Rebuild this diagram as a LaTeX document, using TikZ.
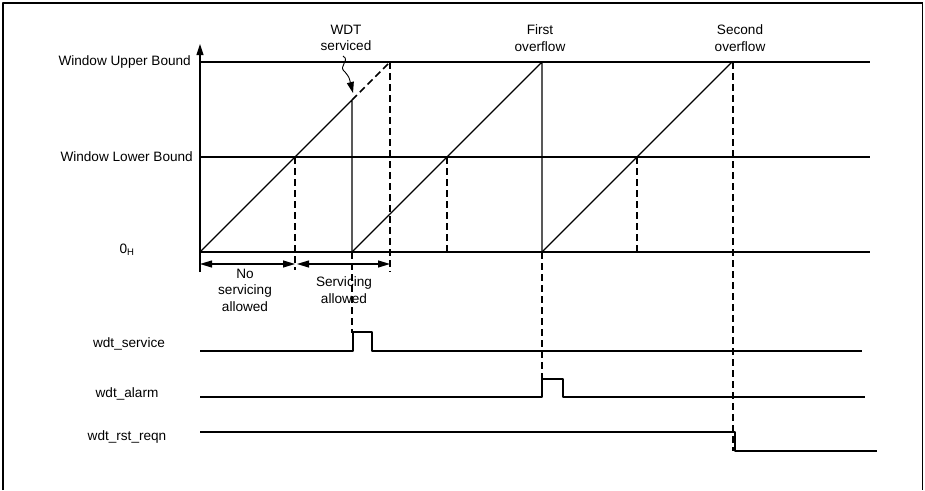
\documentclass[tikz,border=0pt]{standalone}
\usepackage{fontspec}
\setmainfont{Liberation Sans}
\usetikzlibrary{arrows.meta}

\begin{document}
\begin{tikzpicture}[
    x=1pt, y=-1pt,
    line join=round,
    every node/.style={font=\fontsize{13.6}{16.5}\selectfont, inner sep=0pt},
    thin line/.style={line width=1.1pt},
    guide/.style={line width=1.5pt, dash pattern=on 7pt off 4pt},
    tip/.style={-{Triangle[length=11pt, width=7pt]}},
    dim/.style={{Triangle[length=12pt, width=7pt]}-{Triangle[length=12pt, width=7pt]}, line width=1.1pt},
]
\useasboundingbox (0,0) rectangle (925,490);

% 参数（像素）
\def\X{200}     % 纵轴位置
\def\Yup{62}    % 上界
\def\Ylo{157}   % 下界
\def\Yz{252}    % 0_H
\def\Xr{870}    % 横线右端

% ---- 外框 ----
\draw[line width=2pt] (3,490) -- (3,3) -- (923,3);
\draw[line width=1.5pt] (922.5,3) -- (922.5,490);

% ---- 纵轴与三条横线 ----
\draw[thin line, tip] (\X,272) -- (\X,44);
\draw[thin line] (\X,\Yup) -- (\Xr,\Yup);
\draw[thin line] (\X,\Ylo) -- (\Xr,\Ylo);
\draw[thin line] (\X,\Yz) -- (\Xr,\Yz);

\node[anchor=east] (ub) at (191,\Yup) {Window Upper Bound};
\node[anchor=east] (lb) at (193,\Ylo) {Window Lower Bound};
\node (zero) at (127,250) {0\textsubscript{H}};

% ---- 锯齿波 ----
\coordinate (S) at (352,100);   % 喂狗点
\draw[thin line] (\X,\Yz) -- (S) -- (352,\Yz);
\draw[guide] (S) -- (390,\Yup);
\draw[thin line] (352,\Yz) -- (542,\Yup) -- (542,\Yz);
\draw[thin line] (542,\Yz) -- (732,\Yup);

% 虚线
\draw[guide] (295,\Ylo) -- (295,270);
\draw[guide] (390,\Yup) -- (390,272);
\draw[guide] (447,\Ylo) -- (447,\Yz);
\draw[guide] (637,\Ylo) -- (637,\Yz);

% ---- 顶部标注 ----
\node[align=center] (wdt) at (346,38) {WDT\\serviced};
\node[align=center] (first) at (540,38) {First\\overflow};
\node[align=center] (second) at (740,38) {Second\\overflow};
\draw[line width=0.9pt, tip] (343,56) .. controls (351,61) and (337,66) .. (345,72) .. controls (349,77) .. (353,93);

% ---- 区间箭头 ----
\draw[dim] (\X,264) -- (295,264);
\draw[dim] (297,264) -- (390,264);
\node[align=center] (nosrv) at (245,290) {No\\servicing\\allowed};
\node[align=center] (srv) at (344,290) {Servicing\\allowed};

% ---- 信号 ----
\node (svc) at (129,344) {wdt\_service};
\node (alarm) at (127,394) {wdt\_alarm};
\node (rst) at (127,437) {wdt\_rst\_reqn};

\draw[thin line] (\X,351) -- (353,351) -- (353,332) -- (372,332) -- (372,351) -- (862,351);
\draw[thin line] (\X,397) -- (542,397) -- (542,379) -- (563,379) -- (563,397) -- (865,397);
\draw[thin line] (\X,432) -- (735,432) -- (735,451) -- (877,451);

\draw[guide] (352,\Yz) -- (352,333);
\draw[guide] (542,\Yz) -- (542,397);
\draw[guide] (733,\Yup) -- (733,451);

\end{tikzpicture}
\end{document}
